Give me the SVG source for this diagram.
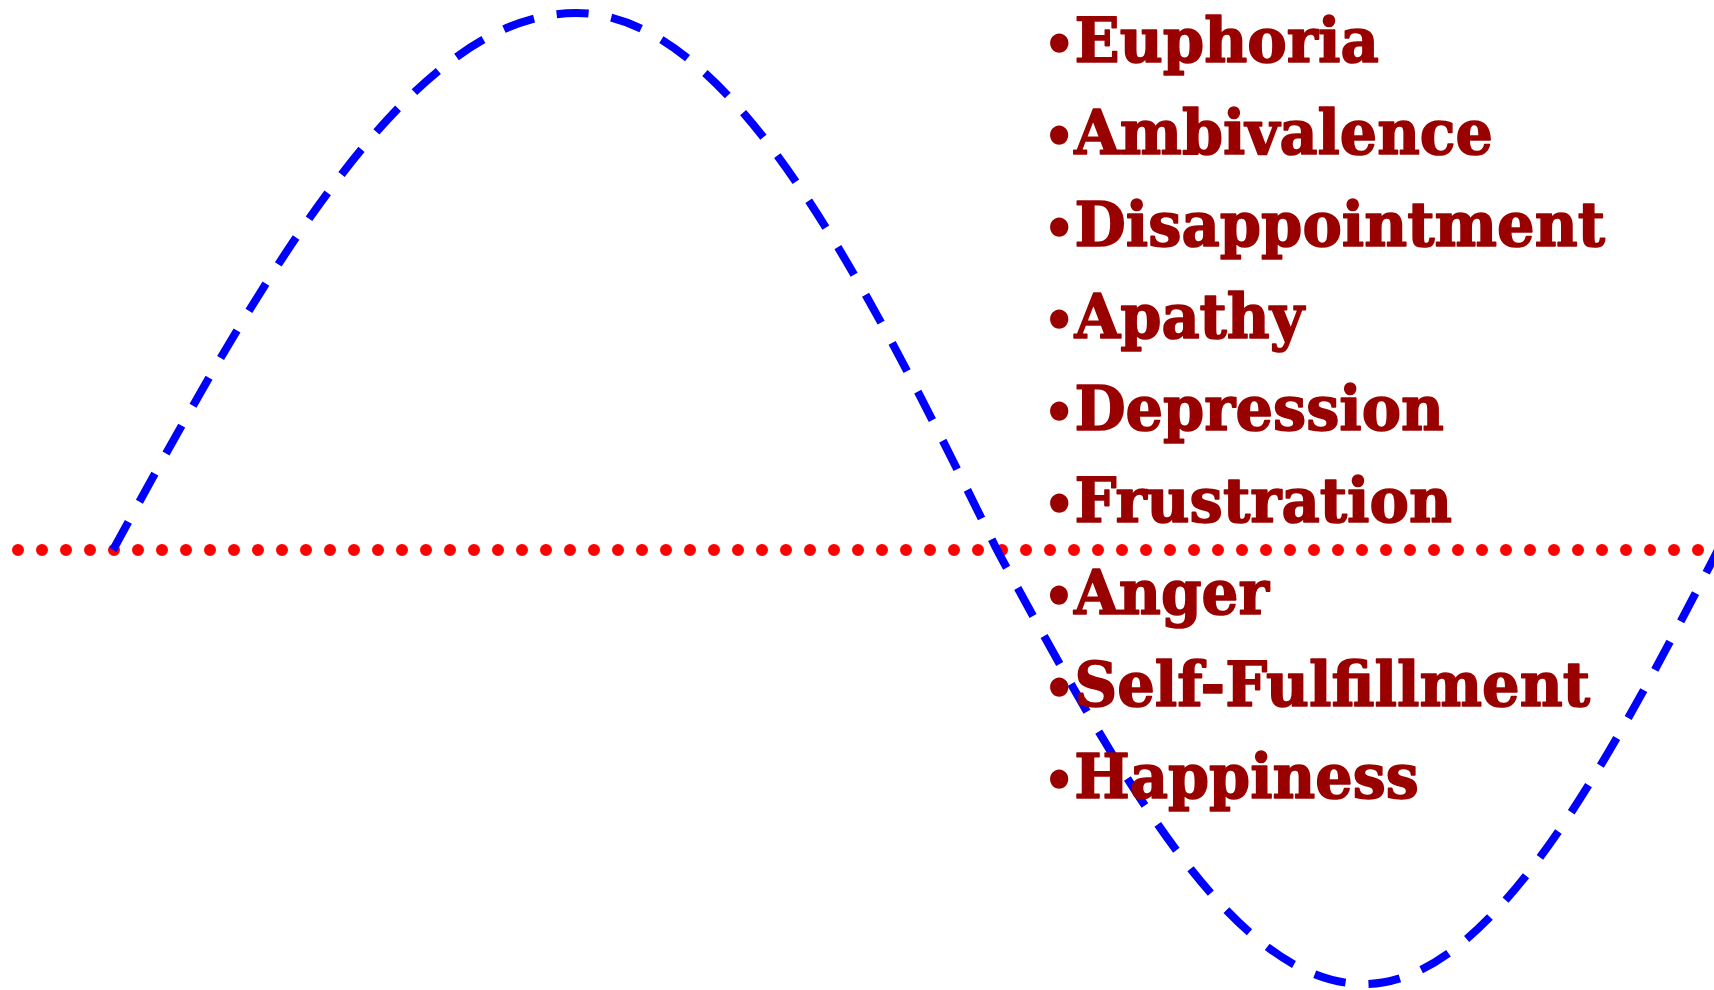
<svg xmlns="http://www.w3.org/2000/svg" width="1714" height="990" viewBox="0 0 1714 990">
<style>
.lbl{font-family:"DejaVu Serif","Liberation Serif",serif;font-weight:bold;font-size:62px;fill:#990000;stroke:#990000;stroke-width:1.6;stroke-linejoin:round}
.b{font-size:50px}
.axis{fill:none;stroke:#ff0000;stroke-width:12;stroke-linecap:round;stroke-dasharray:0 24}
.wave{fill:none;stroke:#0000ff;stroke-width:8;stroke-dasharray:32 23}
</style>
<rect width="1714" height="990" fill="#ffffff"/>
<g id="connectors">
<path class="axis" d="M18 550 H1710"/>
<path class="wave" d="M113 550 C263 275 410 13 576 13 C730 13 862 275 997 550 C1118 772 1232 984 1364 984 C1490 984 1603 772 1718 550"/>
</g>
<g id="labels">
<text id="t1" class="lbl" x="1044" y="62" textLength="335" lengthAdjust="spacingAndGlyphs"><tspan class="b">•</tspan>Euphoria</text>
<text id="t2" class="lbl" x="1044" y="154" textLength="449" lengthAdjust="spacingAndGlyphs"><tspan class="b">•</tspan>Ambivalence</text>
<text id="t3" class="lbl" x="1044" y="246" textLength="561" lengthAdjust="spacingAndGlyphs"><tspan class="b">•</tspan>Disappointment</text>
<text id="t4" class="lbl" x="1044" y="338" textLength="260" lengthAdjust="spacingAndGlyphs"><tspan class="b">•</tspan>Apathy</text>
<text id="t5" class="lbl" x="1044" y="430" textLength="400" lengthAdjust="spacingAndGlyphs"><tspan class="b">•</tspan>Depression</text>
<text id="t6" class="lbl" x="1044" y="522" textLength="408" lengthAdjust="spacingAndGlyphs"><tspan class="b">•</tspan>Frustration</text>
<text id="t7" class="lbl" x="1044" y="614" textLength="225" lengthAdjust="spacingAndGlyphs"><tspan class="b">•</tspan>Anger</text>
<text id="t8" class="lbl" x="1044" y="706" textLength="546" lengthAdjust="spacingAndGlyphs"><tspan class="b">•</tspan>Self-Fulfillment</text>
<text id="t9" class="lbl" x="1044" y="798" textLength="375" lengthAdjust="spacingAndGlyphs"><tspan class="b">•</tspan>Happiness</text>
</g>
</svg>
